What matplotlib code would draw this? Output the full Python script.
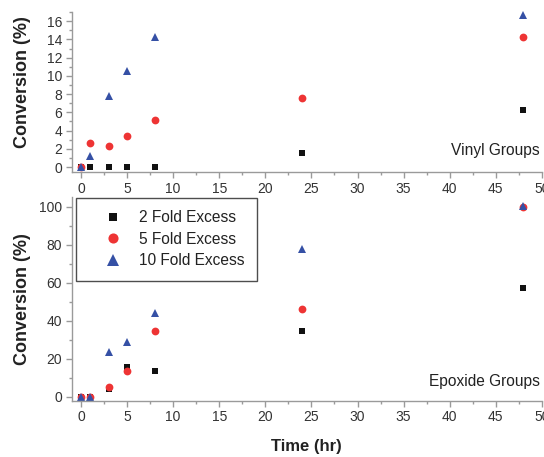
import numpy as np
import matplotlib
matplotlib.use('Agg')
import matplotlib.pyplot as plt
from matplotlib.ticker import MultipleLocator

plt.rcParams['font.family'] = ['Liberation Sans', 'DejaVu Sans']

# time points (hr)
time = [0, 1, 3, 5, 8, 24, 48]

# vinyl group conversion (%)
vinyl_2x = [0, 0, 0, 0, 0, 1.5, 6.3]
vinyl_5x = [0, 2.6, 2.35, 3.35, 5.15, 7.55, 14.3]
vinyl_10x = [0, 1.2, 7.8, 10.55, 14.25, np.nan, 16.65]

# epoxide group conversion (%)
epoxide_2x = [0, 0, 3.9, 15.4, 13.4, 34.8, 57.4]
epoxide_5x = [0, 0, 5.1, 13.6, 34.5, 46.3, 100]
epoxide_10x = [0, 0, 23.4, 29.0, 44.0, 77.9, 100.2]

labels = ['2 Fold Excess', '5 Fold Excess', '10 Fold Excess']
colors = ['#111111', '#ee3434', '#3550a5']
markers = ['s', 'o', '^']
msizes = [4.8, 5.6, 6.4]
axis_gray = '#9a9a9a'
text_gray = '#333333'

fig = plt.figure(figsize=(5.44, 4.57), dpi=100)
ax1 = fig.add_axes([0.132, 0.6236, 0.864, 0.350])
ax2 = fig.add_axes([0.132, 0.1232, 0.864, 0.4453])


def style_axes(ax, label_y):
    for side in ['top', 'right']:
        ax.spines[side].set_visible(False)
    for side in ['left', 'bottom']:
        ax.spines[side].set_color(axis_gray)
        ax.spines[side].set_linewidth(1.0)
    ax.tick_params(which='major', direction='out', length=4, width=1,
                   color=axis_gray, labelcolor=text_gray, labelsize=10, pad=3)
    ax.tick_params(which='minor', direction='out', length=2.5, width=1,
                   color=axis_gray)
    ax.set_xlim(-1, 50)
    ax.xaxis.set_major_locator(MultipleLocator(5))
    ax.xaxis.set_minor_locator(MultipleLocator(2.5))
    ax.set_ylabel('Conversion (%)', fontsize=13, fontweight='bold', color='#222222')
    ax.yaxis.set_label_coords(-0.086, label_y)


# top panel: vinyl groups
for ys, lab, c, m, s in zip([vinyl_2x, vinyl_5x, vinyl_10x], labels, colors, markers, msizes):
    ax1.plot(time, ys, linestyle='none', marker=m, color=c, markersize=s,
             markeredgewidth=0, label=lab, clip_on=False)
style_axes(ax1, 0.56)
ax1.set_ylim(-0.55, 17)
ax1.yaxis.set_major_locator(MultipleLocator(2))
ax1.yaxis.set_minor_locator(MultipleLocator(1))
ax1.text(0.995, 0.1375, 'Vinyl Groups', transform=ax1.transAxes, ha='right',
         va='center', fontsize=11.2, color='#222222')

# bottom panel: epoxide groups
for ys, lab, c, m, s in zip([epoxide_2x, epoxide_5x, epoxide_10x], labels, colors, markers, msizes):
    ax2.plot(time, ys, linestyle='none', marker=m, color=c, markersize=s,
             markeredgewidth=0, label=lab, clip_on=False)
style_axes(ax2, 0.5)
ax2.set_ylim(-2.1, 105)
ax2.yaxis.set_major_locator(MultipleLocator(20))
ax2.yaxis.set_minor_locator(MultipleLocator(10))
ax2.text(0.995, 0.092, 'Epoxide Groups', transform=ax2.transAxes, ha='right',
         va='center', fontsize=11.2, color='#222222')

leg = ax2.legend(loc='upper left', bbox_to_anchor=(0.008, 0.998), fontsize=11.2,
                 frameon=True, fancybox=False, borderpad=0.82, labelspacing=0.42,
                 handlelength=3.23, handletextpad=0.0, borderaxespad=0,
                 markerscale=1.3)
leg.get_frame().set_edgecolor('#222222')
leg.get_frame().set_linewidth(1.0)
for t in leg.get_texts():
    t.set_color('#222222')

fig.text(0.564, 0.022, 'Time (hr)', ha='center', va='center', fontsize=12,
         fontweight='bold', color='#222222')

fig.savefig('out.png', dpi=100)
